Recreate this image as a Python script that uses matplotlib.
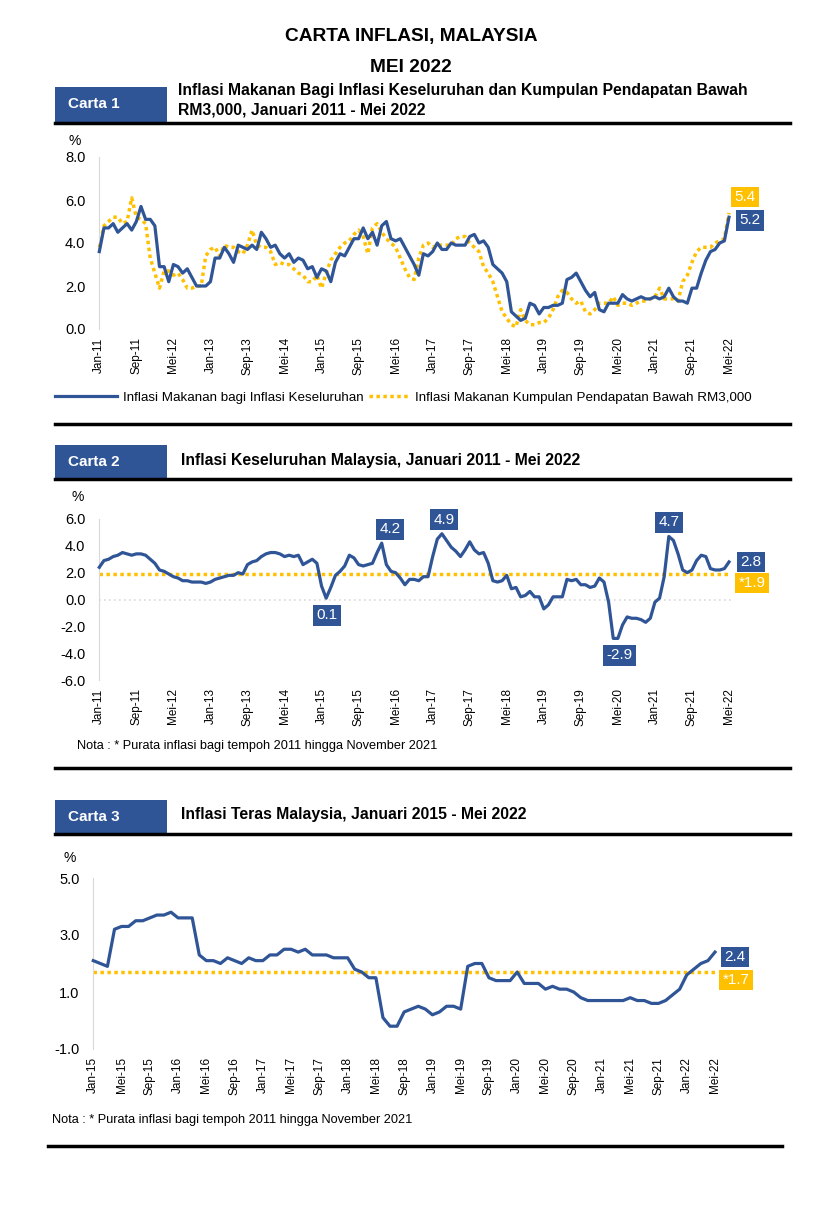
import matplotlib
matplotlib.use('Agg')
import matplotlib.pyplot as plt
from matplotlib.patches import Rectangle
from matplotlib.lines import Line2D

plt.rcParams['font.family'] = ['Liberation Sans', 'DejaVu Sans']

W, H = 840, 1212
BLUE = '#2F5597'
GOLD = '#FFC000'
AXGRAY = '#D9D9D9'

# ---------------- DATA ----------------
# Carta 1: Jan 2011 - Mei 2022 (137 months)
food_all = [
    3.6, 4.7, 4.7, 4.9, 4.5, 4.7, 4.9, 4.6, 5.0, 5.7, 5.1, 5.1,   # 2011
    4.8, 2.9, 2.9, 2.2, 3.0, 2.9, 2.6, 2.8, 2.4, 2.0, 2.0, 2.0,   # 2012
    2.2, 3.3, 3.3, 3.8, 3.5, 3.1, 3.9, 3.8, 3.7, 3.9, 3.7, 4.5,   # 2013
    4.2, 3.8, 3.9, 3.5, 3.3, 3.5, 3.1, 3.3, 3.2, 2.8, 2.9, 2.4,   # 2014
    2.8, 2.7, 2.2, 3.1, 3.5, 3.4, 3.8, 4.2, 4.2, 4.7, 4.2, 4.5,   # 2015
    3.9, 4.8, 5.0, 4.2, 4.1, 4.2, 3.8, 3.4, 3.0, 2.5, 3.5, 3.4,   # 2016
    3.6, 4.0, 3.7, 3.7, 4.0, 3.9, 3.9, 3.9, 4.3, 4.4, 4.0, 4.1,   # 2017
    3.8, 3.0, 2.8, 2.6, 2.2, 0.8, 0.6, 0.4, 0.5, 1.2, 1.1, 0.7,   # 2018
    1.0, 1.0, 1.1, 1.1, 1.2, 2.3, 2.4, 2.6, 2.2, 1.8, 1.5, 1.7,   # 2019
    0.9, 0.8, 1.2, 1.2, 1.2, 1.6, 1.4, 1.3, 1.4, 1.5, 1.4, 1.4,   # 2020
    1.5, 1.4, 1.5, 1.9, 1.5, 1.3, 1.3, 1.2, 1.9, 1.9, 2.6, 3.2,   # 2021
    3.6, 3.7, 4.0, 4.1, 5.2,                                      # 2022
]
food_b40 = [
    3.8, 4.8, 5.0, 5.2, 5.2, 4.9, 5.0, 6.1, 5.2, 5.1, 4.9, 3.3,   # 2011
    2.6, 1.9, 2.7, 2.7, 2.5, 2.6, 2.3, 1.9, 1.9, 2.0, 2.0, 3.4,   # 2012
    3.7, 3.8, 3.4, 3.9, 3.8, 3.8, 3.6, 3.5, 3.9, 4.6, 3.9, 3.8,   # 2013
    3.8, 3.6, 3.0, 3.1, 3.0, 3.0, 2.8, 2.6, 2.5, 2.2, 2.2, 2.5,   # 2014
    1.9, 2.6, 3.2, 3.5, 3.8, 4.0, 4.1, 4.4, 4.6, 4.3, 3.5, 4.7,   # 2015
    4.9, 4.5, 4.2, 4.0, 3.8, 3.3, 2.8, 2.4, 2.3, 3.3, 3.9, 4.0,   # 2016
    3.8, 3.9, 3.9, 3.9, 3.9, 4.2, 4.3, 4.3, 4.0, 3.8, 3.6, 2.9,   # 2017
    2.6, 2.2, 1.5, 0.8, 0.5, 0.2, 0.1, 0.9, 0.4, 0.2, 0.2, 0.3,   # 2018
    0.3, 0.5, 0.9, 1.5, 1.8, 1.7, 1.4, 1.2, 1.3, 0.8, 0.7, 0.9,   # 2019
    1.2, 1.2, 1.2, 1.5, 1.1, 1.2, 1.2, 1.1, 1.2, 1.3, 1.3, 1.4,   # 2020
    1.5, 1.9, 1.4, 1.4, 1.4, 1.3, 2.2, 2.5, 3.1, 3.6, 3.8, 3.8,   # 2021
    3.8, 4.0, 4.1, 4.2, 5.4,                                      # 2022
]
# Carta 2: Jan 2011 - Mei 2022
headline = [
    2.4, 2.9, 3.0, 3.2, 3.3, 3.5, 3.4, 3.3, 3.4, 3.4, 3.3, 3.0,
    2.7, 2.2, 2.1, 1.9, 1.7, 1.6, 1.4, 1.4, 1.3, 1.3, 1.3, 1.2,
    1.3, 1.5, 1.6, 1.7, 1.8, 1.8, 2.0, 1.9, 2.6, 2.8, 2.9, 3.2,
    3.4, 3.5, 3.5, 3.4, 3.2, 3.3, 3.2, 3.3, 2.6, 2.8, 3.0, 2.7,
    1.0, 0.1, 0.9, 1.8, 2.1, 2.5, 3.3, 3.1, 2.6, 2.5, 2.6, 2.7,
    3.5, 4.2, 2.6, 2.1, 2.0, 1.6, 1.1, 1.5, 1.5, 1.4, 1.7, 1.7,
    3.2, 4.5, 4.9, 4.4, 3.9, 3.6, 3.2, 3.7, 4.3, 3.7, 3.4, 3.5,
    2.7, 1.4, 1.3, 1.4, 1.8, 0.8, 0.9, 0.2, 0.3, 0.6, 0.2, 0.2,
    -0.7, -0.4, 0.2, 0.2, 0.2, 1.5, 1.4, 1.5, 1.1, 1.1, 0.9, 1.0,
    1.6, 1.3, -0.2, -2.9, -2.9, -1.9, -1.3, -1.4, -1.4, -1.5, -1.7, -1.4,
    -0.2, 0.1, 1.7, 4.7, 4.4, 3.4, 2.2, 2.0, 2.2, 2.9, 3.3, 3.2,
    2.3, 2.2, 2.2, 2.3, 2.8,
]
headline_avg = 1.9
# Carta 3: Jan 2015 - Mei 2022 (89 months)
core = [
    2.1, 2.0, 1.9, 3.2, 3.3, 3.3, 3.5, 3.5, 3.6, 3.7, 3.7, 3.8,
    3.6, 3.6, 3.6, 2.3, 2.1, 2.1, 2.0, 2.2, 2.1, 2.0, 2.2, 2.1,
    2.1, 2.3, 2.3, 2.5, 2.5, 2.4, 2.5, 2.3, 2.3, 2.3, 2.2, 2.2,
    2.2, 1.8, 1.7, 1.5, 1.5, 0.1, -0.2, -0.2, 0.3, 0.4, 0.5, 0.4,
    0.2, 0.3, 0.5, 0.5, 0.4, 1.9, 2.0, 2.0, 1.5, 1.4, 1.4, 1.4,
    1.7, 1.3, 1.3, 1.3, 1.1, 1.2, 1.1, 1.1, 1.0, 0.8, 0.7, 0.7,
    0.7, 0.7, 0.7, 0.7, 0.8, 0.7, 0.7, 0.6, 0.6, 0.7, 0.9, 1.1,
    1.6, 1.8, 2.0, 2.1, 2.4,
]
core_avg = 1.7

ticks_11_22 = ['Jan-11', 'Sep-11', 'Mei-12', 'Jan-13', 'Sep-13', 'Mei-14', 'Jan-15',
               'Sep-15', 'Mei-16', 'Jan-17', 'Sep-17', 'Mei-18', 'Jan-19', 'Sep-19',
               'Mei-20', 'Jan-21', 'Sep-21', 'Mei-22']
ticks_15_22 = ['Jan-15', 'Mei-15', 'Sep-15', 'Jan-16', 'Mei-16', 'Sep-16', 'Jan-17',
               'Mei-17', 'Sep-17', 'Jan-18', 'Mei-18', 'Sep-18', 'Jan-19', 'Mei-19',
               'Sep-19', 'Jan-20', 'Mei-20', 'Sep-20', 'Jan-21', 'Mei-21', 'Sep-21',
               'Jan-22', 'Mei-22']

legend_labels = ['Inflasi Makanan bagi Inflasi Keseluruhan',
                 'Inflasi Makanan Kumpulan Pendapatan Bawah RM3,000']
note_text = 'Nota : * Purata inflasi bagi tempoh 2011 hingga November 2021'

# ---------------- FIGURE ----------------
fig = plt.figure(figsize=(W / 100, H / 100), dpi=100)


def fx(x):
    return x / W


def fy(y):
    return 1 - y / H


def add_ax(left, right, top, bottom):
    return fig.add_axes([fx(left), fy(bottom), fx(right) - fx(left), fy(top) - fy(bottom)])


def style(ax, n, step, xlabels, yticks, ypad):
    ax.set_xlim(0, n - 1)
    ax.set_ylim(yticks[0], yticks[-1])
    for s in ['top', 'right', 'bottom']:
        ax.spines[s].set_visible(False)
    ax.spines['left'].set_color(AXGRAY)
    ax.spines['left'].set_linewidth(0.8)
    ax.set_yticks(yticks)
    ax.set_yticklabels([f'{v:.1f}' for v in yticks])
    ax.tick_params(axis='y', length=0, pad=ypad, labelsize=10.5)
    ax.set_xticks(list(range(0, n, step)))
    ax.set_xticklabels(xlabels, rotation=90)
    ax.tick_params(axis='x', length=0, pad=6, labelsize=8.5)
    ax.patch.set_alpha(0)


def tag(ax, x, y, text, dx, dy, color):
    ax.annotate(text, xy=(x, y), xytext=(dx, dy), textcoords='offset pixels',
                ha='center', va='center', color='white', fontsize=11,
                bbox=dict(boxstyle='square,pad=0.22', fc=color, ec='none'),
                annotation_clip=False, zorder=5)


def header(box_top, box_bot, label, lines, title_x, line_y):
    fig.patches.append(Rectangle((fx(55), fy(box_bot)), fx(167) - fx(55),
                                 fy(box_top) - fy(box_bot), transform=fig.transFigure,
                                 fc=BLUE, ec='none'))
    fig.text(fx(68), fy((box_top + box_bot) / 2), label, color='white',
             fontweight='bold', fontsize=11, va='center', ha='left')
    for txt, yy in lines:
        fig.text(fx(title_x), fy(yy), txt, fontweight='bold', fontsize=11.3,
                 va='center', ha='left')
    fig.add_artist(Line2D([fx(55), fx(790)], [fy(line_y)] * 2, color='black', lw=2.5))


LW = 2.3
DLW = 2.5
DOT = (0, (1, 1))

# Titles
fig.text(fx(411), fy(36), 'CARTA INFLASI, MALAYSIA', fontweight='bold', fontsize=13.8,
         ha='center', va='center')
fig.text(fx(411), fy(67), 'MEI 2022', fontweight='bold', fontsize=13.8,
         ha='center', va='center')

# ---------------- Carta 1 ----------------
header(87, 122, 'Carta 1',
       [('Inflasi Makanan Bagi Inflasi Keseluruhan dan Kumpulan Pendapatan Bawah', 91),
        ('RM3,000, Januari 2011 - Mei 2022', 110)], 178, 123)

ax1 = add_ax(99.3, 729, 157, 329)
x1 = list(range(len(food_all)))
l1, = ax1.plot(x1, food_all, color=BLUE, lw=LW, solid_joinstyle='round', zorder=3,
               clip_on=False)
l2, = ax1.plot(x1, food_b40, color=GOLD, lw=DLW, linestyle=DOT, zorder=2, clip_on=False)
style(ax1, len(food_all), 8, ticks_11_22, [0.0, 2.0, 4.0, 6.0, 8.0], 10)
fig.text(fx(75), fy(141), '%', fontsize=10, ha='center', va='center')
tag(ax1, x1[-1], food_b40[-1], f'{food_b40[-1]:.1f}', 16, 16, GOLD)
tag(ax1, x1[-1], food_all[-1], f'{food_all[-1]:.1f}', 21, -3, BLUE)

FS = 9.6
em = FS * 100 / 72
leg_a = fig.legend([l1], legend_labels[:1], loc='center left',
                   bbox_to_anchor=(fx(55), fy(398)), frameon=False, fontsize=FS,
                   handlelength=62 / em, handletextpad=6 / em, borderpad=0,
                   borderaxespad=0)
leg_b = fig.legend([l2], legend_labels[1:], loc='center left',
                   bbox_to_anchor=(fx(369), fy(398)), frameon=False, fontsize=FS,
                   handlelength=40 / em, handletextpad=6 / em, borderpad=0,
                   borderaxespad=0)

fig.add_artist(Line2D([fx(55), fx(790)], [fy(424)] * 2, color='black', lw=2.5))

# ---------------- Carta 2 ----------------
header(445, 479, 'Carta 2',
       [('Inflasi Keseluruhan Malaysia, Januari 2011 - Mei 2022', 461)], 181, 479)

ax2 = add_ax(99.3, 729, 519, 680)
x2 = list(range(len(headline)))
ax2.axhline(0, xmin=0, xmax=1.005, color=AXGRAY, lw=1.2, linestyle=(0, (1, 2)), zorder=1,
            clip_on=False)
ax2.hlines(headline_avg, 0, len(headline) - 1, color=GOLD, lw=DLW, linestyles=[DOT], zorder=2)
ax2.plot(x2, headline, color=BLUE, lw=LW, solid_joinstyle='round', zorder=3, clip_on=False)
style(ax2, len(headline), 8, ticks_11_22, [-6.0, -4.0, -2.0, 0.0, 2.0, 4.0, 6.0], 10)
fig.text(fx(78), fy(497), '%', fontsize=10, ha='center', va='center')

i_min = headline.index(min(headline[40:60]), 40)
tag(ax2, i_min, headline[i_min], f'{headline[i_min]:.1f}', 1, -17, BLUE)
for lo, hi, dx in [(55, 70, 8), (70, 80, 2), (115, 130, 0)]:
    seg = headline[lo:hi]
    i = lo + seg.index(max(seg))
    tag(ax2, i, headline[i], f'{headline[i]:.1f}', dx, 14, BLUE)
i_low = headline.index(min(headline))
tag(ax2, i_low + 1, headline[i_low], f'{headline[i_low]:.1f}', 2, -17, BLUE)
tag(ax2, x2[-1], headline[-1], f'{headline[-1]:.1f}', 22, 0, BLUE)
tag(ax2, x2[-1], headline_avg, f'*{headline_avg:.1f}', 23, -9, GOLD)

fig.text(fx(77), fy(746), note_text, fontsize=9.2, ha='left', va='center')
fig.add_artist(Line2D([fx(55), fx(790)], [fy(768)] * 2, color='black', lw=2.5))

# ---------------- Carta 3 ----------------
header(800, 834, 'Carta 3',
       [('Inflasi Teras Malaysia, Januari 2015 - Mei 2022', 815)], 181, 834)

ax3 = add_ax(93.3, 715, 878, 1049)
x3 = list(range(len(core)))
ax3.hlines(core_avg, 0, len(core) - 1, color=GOLD, lw=DLW, linestyles=[DOT], zorder=2)
ax3.plot(x3, core, color=BLUE, lw=LW, solid_joinstyle='round', zorder=3, clip_on=False)
style(ax3, len(core), 4, ticks_15_22, [-1.0, 1.0, 3.0, 5.0], 10)
fig.text(fx(70), fy(858), '%', fontsize=10, ha='center', va='center')
tag(ax3, x3[-1], core[-1], f'{core[-1]:.1f}', 20, -5, BLUE)
tag(ax3, x3[-1], core_avg, f'*{core_avg:.1f}', 21, -8, GOLD)

fig.text(fx(52), fy(1120), note_text, fontsize=9.2, ha='left', va='center')
fig.add_artist(Line2D([fx(48), fx(782)], [fy(1146)] * 2, color='black', lw=2.5))

fig.savefig('out.png', dpi=100, facecolor='white')
